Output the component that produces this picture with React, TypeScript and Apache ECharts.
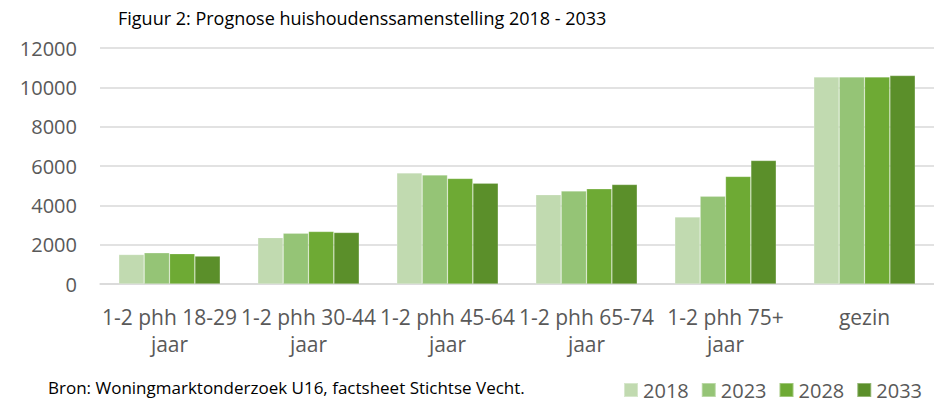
import React, { useEffect, useRef } from "react";
import * as echarts from "echarts";

const categories = [
  "1-2 phh 18-29\njaar",
  "1-2 phh 30-44\njaar",
  "1-2 phh 45-64\njaar",
  "1-2 phh 65-74\njaar",
  "1-2 phh 75+\njaar",
  "gezin",
];
const seriesNames = ["2018", "2023", "2028", "2033"];
const values2018 = [1500, 2360, 5650, 4540, 3410, 10530];
const values2023 = [1590, 2580, 5540, 4730, 4460, 10530];
const values2028 = [1540, 2670, 5370, 4840, 5470, 10530];
const values2033 = [1420, 2620, 5130, 5060, 6280, 10600];
const colors = ["#C1DAB0", "#95C476", "#6EAA34", "#5B8F2A"];
const titleText = "Figuur 2: Prognose huishoudenssamenstelling 2018 - 2033";
const sourceText = "Bron: Woningmarktonderzoek U16, factsheet Stichtse Vecht.";

const FONT = "'Open Sans', 'Liberation Sans', sans-serif";

export default function App() {
  const ref = useRef<HTMLDivElement>(null);
  useEffect(() => {
    if (!ref.current) return;
    const chart = echarts.init(ref.current, null, { renderer: "svg" });
    const all = [values2018, values2023, values2028, values2033];
    chart.setOption({
      animation: false,
      backgroundColor: "#ffffff",
      textStyle: { fontFamily: FONT },
      grid: { left: 100, right: 0, top: 48, bottom: 119, containLabel: false },
      legend: {
        data: seriesNames,
        right: 12,
        top: 380,
        padding: 0,
        itemWidth: 14,
        itemHeight: 14,
        itemGap: 12,
        icon: "rect",
        textStyle: { fontSize: 20, lineHeight: 20, color: "#595959", fontFamily: FONT },
      },
      xAxis: {
        type: "category",
        data: categories,
        axisLine: { show: true, lineStyle: { color: "#D9D9D9", width: 1.5 } },
        axisTick: { show: false },
        axisLabel: {
          interval: 0,
          margin: 19,
          fontSize: 21,
          lineHeight: 27,
          color: "#595959",
          fontFamily: FONT,
        },
      },
      yAxis: {
        type: "value",
        min: 0,
        max: 12000,
        interval: 2000,
        axisLine: { show: false },
        axisTick: { show: false },
        splitLine: { lineStyle: { color: "#D9D9D9", width: 1.5 } },
        axisLabel: {
          fontSize: 20,
          color: "#595959",
          margin: 23,
          fontFamily: FONT,
          formatter: (v: number) => String(v),
        },
      },
      series: seriesNames.map((name, i) => ({
        name,
        type: "bar",
        data: all[i],
        barGap: "0%",
        barCategoryGap: "27%",
        itemStyle: { color: colors[i], borderColor: "rgba(255,255,255,0.35)", borderWidth: 0.6 },
      })),
      graphic: [
        {
          type: "text",
          left: 118,
          top: 9,
          style: { text: titleText, fontSize: 18, fill: "#000000", fontFamily: FONT },
        },
        {
          type: "text",
          left: 48,
          top: 379,
          style: { text: sourceText, fontSize: 17, fill: "#000000", fontFamily: FONT },
        },
      ],
    });
    return () => chart.dispose();
  }, []);
  return (
    <div
      ref={ref}
      style={{ position: "fixed", left: 0, top: 0, width: 934, height: 403, background: "#fff" }}
    />
  );
}
